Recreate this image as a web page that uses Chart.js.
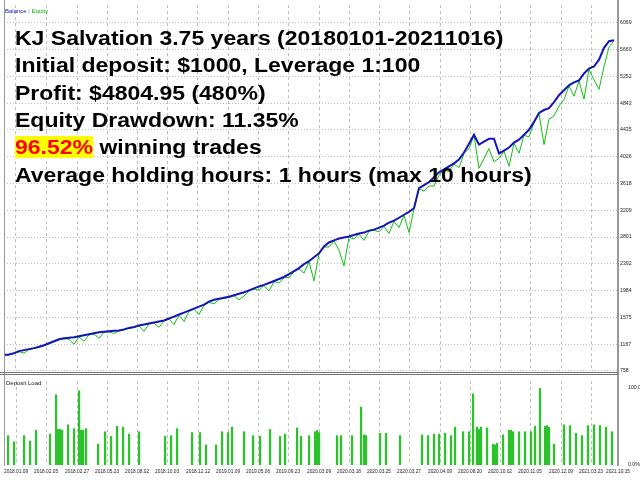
<!DOCTYPE html>
<html>
<head>
<meta charset="utf-8">
<script src="https://cdn.jsdelivr.net/npm/chart.js@4.4.0/dist/chart.umd.min.js"></script>
<style>
  body { margin:0; width:640px; height:480px; background:#fff; position:relative; overflow:hidden; font-family:'Liberation Sans', Arial, sans-serif; }
  canvas { position:absolute; left:0; }
  #main { top:0; }
  #load { top:376px; }
  .tiny { position:absolute; font-family:'Liberation Sans', Arial, sans-serif; font-size:6px; line-height:6px; white-space:nowrap; color:#222; }
  .big { position:absolute; left:15px; font-weight:bold; font-size:20px; line-height:27.3px; white-space:nowrap; transform:scaleX(1.15); transform-origin:0 0; color:#000; }
  .hl { color:#f00; background:#ff0; }
  .hline { position:absolute; left:0; width:618px; height:1px; background:#777; }
  .vline { position:absolute; background:#999; }
</style>
</head>
<body>
<canvas id="main" width="640" height="376"></canvas>
<canvas id="load" width="640" height="104"></canvas>

<div class="vline" style="left:4px;top:0;width:1px;height:466px;"></div>
<div class="vline" style="left:617px;top:0;width:2px;height:466px;"></div>
<div class="hline" style="top:372px;"></div>
<div class="hline" style="top:374px;"></div>

<div class="tiny" style="left:5px;top:8px;"><span style="color:#1414b8">Balance</span> <span style="color:#888">|</span> <span style="color:#10b010">Equity</span></div>
<div class="tiny" style="left:6px;top:380px;">Deposit Load</div>

<div class="big" style="top:25.1px;">KJ Salvation 3.75 years (20180101-20211016)</div>
<div class="big" style="top:52.4px;">Initial deposit: $1000, Leverage 1:100</div>
<div class="big" style="top:79.7px;">Profit: $4804.95 (480%)</div>
<div class="big" style="top:107px;">Equity Drawdown: 11.35%</div>
<div class="big" style="top:134.3px;"><span class="hl">96.52%</span> winning trades</div>
<div class="big" style="top:161.6px;">Average holding hours: 1 hours (max 10 hours)</div>

<script>
// balance / equity sampled every 5 trades
var tradeStep = 5;

var balance = [
  1000,1007,1029,1060,1075,1090,1105,1127,1150,1180,
  1210,1241,1256,1263,1271,1286,1301,1316,1331,1346,
  1354,1361,1369,1376,1391,1414,1429,1452,1467,1482,
  1497,1512,1527,1557,1587,1618,1648,1678,1708,1738,
  1768,1814,1844,1859,1874,1889,1912,1934,1957,1987,
  2017,2047,2070,2100,2130,2160,2191,2236,2281,2326,
  2387,2432,2492,2553,2658,2718,2749,2779,2794,2809,
  2832,2854,2869,2899,2914,2945,2975,3020,3050,3095,
  3141,3186,3240,3548,3593,3638,3714,3789,3834,3880,
  3925,3985,4091,4226,4362,4211,4257,4302,4302,4076,
  4121,4166,4241,4287,4362,4438,4558,4694,4739,4769,
  4860,4965,5041,5116,5161,5192,5297,5372,5403,5508,
  5689,5790,5805
];

var equity = [
  995,1000,1020,1050,1030,1082,1098,1118,1142,1172,
  1200,1230,1248,1240,1165,1278,1210,1308,1320,1256,
  1345,1352,1330,1368,1382,1405,1420,1442,1361,1474,
  1488,1422,1518,1548,1467,1608,1512,1668,1698,1618,
  1758,1804,1780,1850,1864,1879,1902,1844,1900,1977,
  2007,1990,2060,1979,2120,2100,2181,2180,2271,2316,
  2251,2422,2130,2543,2648,2650,2739,2600,2360,2799,
  2770,2844,2749,2889,2904,2880,2965,2854,3040,2945,
  3131,2869,3230,3538,3500,3580,3578,3740,3824,3800,
  3915,3860,4081,4150,4352,3850,4000,4150,3950,4000,
  4111,3880,4231,4080,4352,4330,4548,4684,4211,4600,
  4650,4800,4900,5106,4950,5182,4905,5362,5200,5056,
  5400,5700,5795
];

// deposit load bars (trade number, percent)
var loadTrades = [
  4,10,20,26,32,46,52,54,56,58,
  64,70,75,77,79,82,94,101,107,113,
  119,125,135,161,167,173,188,196,202,212,
  218,224,228,240,249,256,266,276,281,293,
  297,305,311,313,315,
  333,337,348,357,360,362,376,382,396,418,
  424,430,435,441,447,451,459,465,469,473,
  475,477,483,489,491,493,499,505,507,509,
  515,521,527,531,536,541,543,545,550,560,
  566,572,578,584,590,596,602,608
];
var loadPct = [
  38,30,38,31,45,40,91,46,46,45,
  52,47,96,45,45,47,27,43,37,50,
  49,40,43,37,38,47,42,42,26,26,
  43,42,49,43,38,37,46,37,40,48,
  37,38,43,45,42,
  38,38,38,75,39,38,41,41,38,39,
  38,40,40,41,38,49,43,43,92,49,
  46,49,48,27,26,28,39,45,45,43,
  43,43,43,50,99,50,51,49,27,52,
  51,41,38,51,52,51,49,43
];

var xTickTrades = [12,42,73,103,133,163,194,224,254,284,315,345,375,405,436,466,496,526,557,587,614];
var xLabels = [
  '2018.01.09','2018.02.05','2018.02.27','2018.05.23','2018.08.02','2018.10.03','2018.12.12',
  '2019.01.09','2019.05.06','2019.09.23','2020.03.09','2020.03.18','2020.03.25','2020.03.27',
  '2020.04.09','2020.08.20','2020.10.02','2020.11.05','2020.12.09','2021.03.23','2021.10.15'
];
var yTicks = [758,1167,1575,1984,2392,2801,3209,3618,4026,4435,4843,5252,5660,6069];
var loadTicks = [0, 100];

var xFont = { size: 4.8, family: "'Liberation Sans', Arial, sans-serif" };
var yFont = { size: 5.2, family: "'Liberation Sans', Arial, sans-serif" };
var gridColor = '#bdbdbd';

var balancePts = balance.map((v, i) => ({ x: i * tradeStep, y: v }));
var equityPts = equity.map((v, i) => ({ x: i * tradeStep, y: v }));
var loadPts = loadTrades.map((t, i) => ({ x: t, y: loadPct[i] }));

var mainChart = new Chart(document.getElementById('main'), {
    type: 'line',
    data: {
        datasets: [{
            label: 'Balance',
            data: balancePts,
            borderColor: '#1414b8',
            borderWidth: 2,
            pointRadius: 0,
            tension: 0
        }, {
            label: 'Equity',
            data: equityPts,
            borderColor: '#10c010',
            borderWidth: 1,
            pointRadius: 0,
            tension: 0
        }]
    },
    options: {
        responsive: false,
        animation: false,
        events: [],
        layout: { padding: { left: 4, top: 2, bottom: 4, right: 0 } },
        plugins: { legend: { display: false }, tooltip: { enabled: false } },
        scales: {
            x: {
                type: 'linear', min: 0, max: 614,
                afterBuildTicks: s => { s.ticks = xTickTrades.map(v => ({ value: v })); },
                afterFit: s => { s.height = 0; },
                ticks: { display: false },
                grid: { color: gridColor, drawTicks: false },
                border: { display: false, dash: [3, 3] }
            },
            y: {
                position: 'right', min: 758, max: 6340,
                afterBuildTicks: s => { s.ticks = yTicks.map(v => ({ value: v })); },
                afterFit: s => { s.width = 22; },
                ticks: { callback: v => String(v), font: yFont, color: '#222', padding: 2 },
                grid: { color: gridColor, drawTicks: false },
                border: { display: false, dash: [1, 2] }
            }
        }
    }
});

var loadChart = new Chart(document.getElementById('load'), {
    type: 'bar',
    data: {
        datasets: [{
            label: 'Deposit Load',
            data: loadPts,
            backgroundColor: '#2cc22c',
            barThickness: 1.6,
            grouped: false
        }]
    },
    options: {
        responsive: false,
        animation: false,
        events: [],
        layout: { padding: { left: 4, top: 0, bottom: 0, right: 0 } },
        plugins: { legend: { display: false }, tooltip: { enabled: false } },
        scales: {
            x: {
                type: 'linear', min: 0, max: 614, offset: false,
                afterBuildTicks: s => { s.ticks = xTickTrades.map(v => ({ value: v })); },
                afterFit: s => { s.height = 15; },
                ticks: {
                    callback: (v, i) => xLabels[i],
                    autoSkip: false, maxRotation: 0, minRotation: 0,
                    font: xFont, color: '#222', padding: 4
                },
                grid: { color: gridColor, drawTicks: false, offset: false },
                border: { display: false, dash: [3, 3] }
            },
            y: {
                position: 'right', min: 0, max: 108.5,
                afterBuildTicks: s => { s.ticks = loadTicks.map(v => ({ value: v })); },
                afterFit: s => { s.width = 22; },
                ticks: { callback: v => v.toFixed(1) + '%', font: yFont, color: '#222', padding: 2 },
                grid: { display: false },
                border: { display: false }
            }
        }
    }
});
</script>
</body>
</html>
